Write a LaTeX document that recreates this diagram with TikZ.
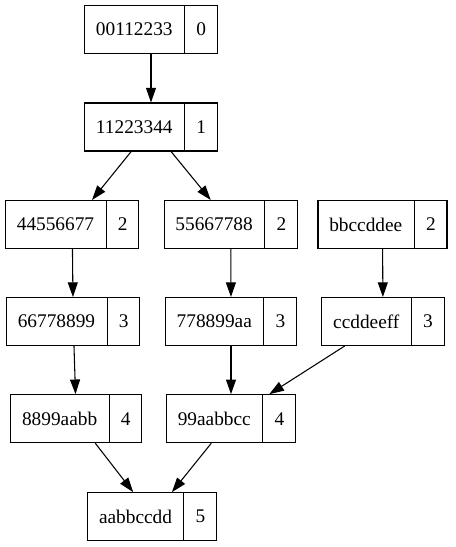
\documentclass[tikz,border=0pt]{standalone}
\usepackage{fontspec}
\setmainfont{Liberation Serif}
\usetikzlibrary{positioning,arrows.meta,shapes.multipart}

\begin{document}
\begin{tikzpicture}[
  x=0.75pt, y=-0.75pt,
  font=\fontsize{14.5}{17}\selectfont,
  rec/.style  ={rectangle split, rectangle split horizontal, rectangle split parts=2,
                draw=black, line width=0.8pt, inner xsep=8.5pt, inner ysep=0pt,
                minimum height=36pt},
  arrow/.style={-{Triangle[length=11pt,width=7.5pt]}, line width=0.8pt, draw=black},
]
\useasboundingbox (0,0) rectangle (455,547);

% -------- top chain -------------------------------------------------------
\node[rec] (r0) at (151,29.5) {00112233\nodepart{two}0};
\node[rec] (r1) at (151,127)  {11223344\nodepart{two}1};

% -------- row 2 -----------------------------------------------------------
\node[rec] (r2a) at (72.2,224.5)  {44556677\nodepart{two}2};
\node[rec] (r2b) at (230.8,224.5) {55667788\nodepart{two}2};
\node[rec] (r2c) at (382.5,224.5) {bbccddee\nodepart{two}2};

% -------- row 3 -----------------------------------------------------------
\node[rec] (r3a) at (73.2,321.5) {66778899\nodepart{two}3};
\node[rec] (r3b) at (231,321.5)  {778899aa\nodepart{two}3};
\node[rec] (r3c) at (383,321.5)  {ccddeeff\nodepart{two}3};

% -------- row 4 -----------------------------------------------------------
\node[rec] (r4a) at (76.3,418.7) {8899aabb\nodepart{two}4};
\node[rec] (r4b) at (231,418.7)  {99aabbcc\nodepart{two}4};

% -------- bottom ----------------------------------------------------------
\node[rec] (r5) at (152.2,516.7) {aabbccdd\nodepart{two}5};

% -------- arrows ----------------------------------------------------------
\foreach \a/\b in {r0/r1, r1/r2a, r1/r2b,
                   r2a/r3a, r2b/r3b, r2c/r3c,
                   r3a/r4a, r3b/r4b, r3c/r4b,
                   r4a/r5, r4b/r5}
  \draw[arrow] (\a) -- (\b);

\end{tikzpicture}
\end{document}
